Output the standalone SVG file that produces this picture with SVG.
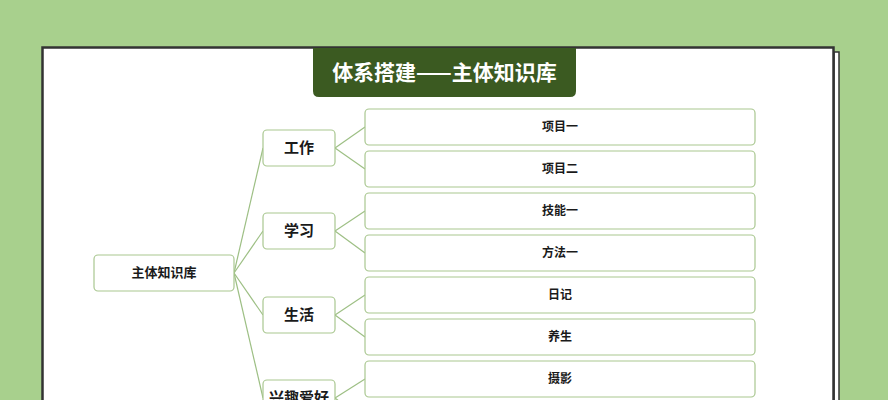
<svg xmlns="http://www.w3.org/2000/svg" width="888" height="400" viewBox="0 0 888 400">
<style>
.node rect{fill:#fff;stroke:#a9c790;stroke-width:1.2}
.t{font-family:"Noto Sans CJK SC","Noto Sans",sans-serif;font-weight:bold;fill:#1a1a1a;text-anchor:middle;dominant-baseline:central}
.l1{font-size:15px}
.l2{font-size:12px}
.root{font-size:13px}
#connectors line{stroke:#9dbf84;stroke-width:1.2}
</style>
<rect x="0" y="0" width="888" height="400" fill="#a8d08d"/>
<g id="shadow-page">
<rect x="834" y="52" width="5" height="360" fill="#fff" stroke="#333" stroke-width="1.5"/>
</g>
<g id="frame">
<rect x="42.5" y="47.5" width="791" height="370" fill="#fff" stroke="#333" stroke-width="2.5"/>
</g>
<g id="title">
<path d="M313 48 H576 V91 Q576 97 570 97 H319 Q313 97 313 91 Z" fill="#3b5a21"/>
<text x="444.5" y="70.5" class="t" style="fill:#fff;font-size:21px">体系搭建——主体知识库</text>
</g>
<g id="connectors">
<line x1="234" y1="273" x2="263" y2="148"/>
<line x1="234" y1="273" x2="263" y2="231"/>
<line x1="234" y1="273" x2="263" y2="315"/>
<line x1="234" y1="273" x2="263" y2="398"/>
<line x1="335" y1="148" x2="365" y2="127"/>
<line x1="335" y1="148" x2="365" y2="169"/>
<line x1="335" y1="231" x2="365" y2="211"/>
<line x1="335" y1="231" x2="365" y2="253"/>
<line x1="335" y1="315" x2="365" y2="295"/>
<line x1="335" y1="315" x2="365" y2="337"/>
<line x1="335" y1="398" x2="365" y2="379"/>
<line x1="335" y1="398" x2="365" y2="421"/>
</g>
<g id="root" class="node"><rect x="94" y="255" width="140" height="36" rx="4"/><text x="164" y="271.5" class="t root">主体知识库</text></g>
<g id="n-work" class="node"><rect x="263" y="130" width="72" height="36" rx="4"/><text x="299" y="146.5" class="t l1">工作</text></g>
<g id="n-study" class="node"><rect x="263" y="213" width="72" height="36" rx="4"/><text x="299" y="229.5" class="t l1">学习</text></g>
<g id="n-life" class="node"><rect x="263" y="297" width="72" height="36" rx="4"/><text x="299" y="313.5" class="t l1">生活</text></g>
<g id="n-hobby" class="node"><rect x="263" y="380" width="72" height="36" rx="4"/><text x="299" y="396.5" class="t l1">兴趣爱好</text></g>
<g id="n-p1" class="node"><rect x="365" y="109" width="390" height="36" rx="4"/><text x="560" y="125.5" class="t l2">项目一</text></g>
<g id="n-p2" class="node"><rect x="365" y="151" width="390" height="36" rx="4"/><text x="560" y="167.5" class="t l2">项目二</text></g>
<g id="n-s1" class="node"><rect x="365" y="193" width="390" height="36" rx="4"/><text x="560" y="209.5" class="t l2">技能一</text></g>
<g id="n-m1" class="node"><rect x="365" y="235" width="390" height="36" rx="4"/><text x="560" y="251.5" class="t l2">方法一</text></g>
<g id="n-d" class="node"><rect x="365" y="277" width="390" height="36" rx="4"/><text x="560" y="293.5" class="t l2">日记</text></g>
<g id="n-h" class="node"><rect x="365" y="319" width="390" height="36" rx="4"/><text x="560" y="335.5" class="t l2">养生</text></g>
<g id="n-ph" class="node"><rect x="365" y="361" width="390" height="36" rx="4"/><text x="560" y="377.5" class="t l2">摄影</text></g>
<g id="n-x" class="node"><rect x="365" y="403" width="390" height="36" rx="4"/></g>
</svg>
